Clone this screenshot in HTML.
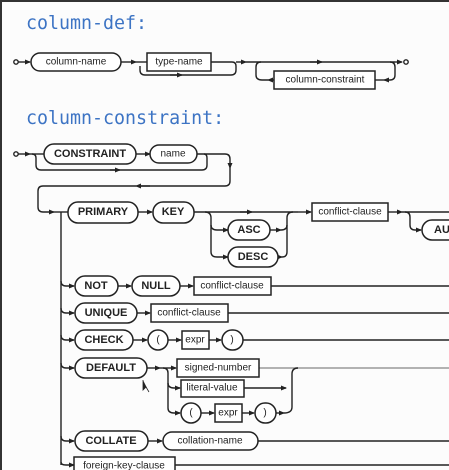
<!DOCTYPE html>
<html><head><meta charset="utf-8"><style>
html,body{margin:0;padding:0;background:#fcfcfc;}
svg{display:block;}
text{font-family:"Liberation Sans",sans-serif;font-size:10px;fill:#222;text-anchor:middle;dominant-baseline:central;}
.k{font-weight:bold;font-size:11px;}
.t{font-family:"DejaVu Sans Mono","Liberation Mono",monospace;font-size:18.3px;fill:#3d74c4;text-anchor:start;dominant-baseline:alphabetic;}
.l{fill:none;stroke:#222;stroke-width:1.4;}
.p{fill:#fff;stroke:#222;stroke-width:1.5;}
</style></head><body>
<svg width="449" height="470" viewBox="0 0 449 470">
<defs><marker id="a" markerWidth="6" markerHeight="6" refX="5" refY="3" orient="auto" markerUnits="userSpaceOnUse"><path d="M0,0.5 L6,3 L0,5.5z" fill="#222"/></marker></defs>
<rect x="0" y="0" width="449" height="470" fill="#fcfcfc"/>
<path d="M1,470 V1 H449" stroke="#333" stroke-width="2" fill="none"/>
<text class="t" x="26" y="29">column-def:</text>
<text class="t" x="26" y="124">column-constraint:</text>

<!-- column-def -->
<g class="l">
<circle cx="16" cy="62" r="2.2" fill="#fff"/>
<path d="M18,62 H30" marker-end="url(#a)"/>
<path d="M121,62 H136" marker-end="url(#a)"/>
<path d="M136,62 H147"/>
<path d="M211,62 H232 Q236,62 236,66 V70 Q236,75 231,75 H145 Q140,75 140,70 V66"/>
<path d="M170,75 H182" marker-end="url(#a)"/>
<path d="M236,62 H246" marker-end="url(#a)"/>
<path d="M246,62 H395" />
<path d="M310,62 H322" marker-end="url(#a)"/>
<path d="M395,62 H402" marker-end="url(#a)"/>
<circle cx="406" cy="62" r="2.2" fill="#fff"/>
<path d="M390,62 Q395,62 395,67 V75 Q395,80 390,80 H384" marker-end="url(#a)"/>
<path d="M384,80 H375"/>
<path d="M274,80 H268" marker-end="url(#a)"/>
<path d="M268,80 H262 Q256,80 256,75 V67 Q256,62 261,62"/>
</g>
<rect class="p" x="31" y="53" width="90" height="18" rx="9"/><text x="76" y="62">column-name</text>
<rect class="p" x="147" y="53" width="64" height="18"/><text x="179" y="62">type-name</text>
<rect class="p" x="274" y="71" width="101" height="18"/><text x="325" y="80">column-constraint</text>

<!-- column-constraint -->
<g class="l">
<circle cx="16" cy="154" r="2.2" fill="#fff"/>
<path d="M18,154 H30" marker-end="url(#a)"/>
<path d="M30,154 H44"/>
<path d="M136,154 H150" marker-end="url(#a)"/>
<path d="M197,154 H225 Q230,154 230,159 V168" marker-end="url(#a)"/>
<path d="M204,154 Q207,154 207,158 V165 Q207,170 202,170 H41 Q36,170 36,165 V158 Q36,154 32,154"/>
<path d="M110,170 H120" marker-end="url(#a)"/>
<path d="M230,168 V181 Q230,186 225,186 H140" />
<path d="M150,186 H136" marker-end="url(#a)"/>
<path d="M136,186 H43 Q38,186 38,191 V207 Q38,212 43,212 H54" marker-end="url(#a)"/>
<path d="M54,212 H68"/>
<path d="M61,212 V465"/>
<path d="M138,212 H152" marker-end="url(#a)"/>
<path d="M194,212 H298" />
<path d="M240,212 H252" marker-end="url(#a)"/>
<path d="M298,212 H311" marker-end="url(#a)"/>
<path d="M205,212 Q211,212 211,218 V252 Q211,257 217,257 H228" marker-end="url(#a)"/>
<path d="M211,225 Q211,230 217,230 H228" marker-end="url(#a)"/>
<path d="M270,230 H281" marker-end="url(#a)"/>
<path d="M278,257 H282" marker-end="url(#a)"/>
<path d="M281,230 Q287,230 287,225 V218 Q287,212 293,212"/>
<path d="M282,257 Q287,257 287,252 V225"/>
<path d="M388,212 H402" marker-end="url(#a)"/>
<path d="M402,212 H449"/>
<path d="M405,212 Q410,212 410,217 V225 Q410,230 415,230 H421" marker-end="url(#a)"/>
<!-- rows -->
<path d="M61,281 Q61,286 66,286 H74" marker-end="url(#a)"/>
<path d="M118,286 H131" marker-end="url(#a)"/>
<path d="M180,286 H193" marker-end="url(#a)"/>
<path d="M271,286 H449"/>
<path d="M61,308 Q61,313 66,313 H74" marker-end="url(#a)"/>
<path d="M137,313 H150" marker-end="url(#a)"/>
<path d="M228,313 H449"/>
<path d="M61,335 Q61,340 66,340 H74" marker-end="url(#a)"/>
<path d="M133,340 H147" marker-end="url(#a)"/>
<path d="M168,340 H181" marker-end="url(#a)"/>
<path d="M209,340 H221" marker-end="url(#a)"/>
<path d="M243,340 H449"/>
<path d="M61,363 Q61,368 66,368 H74" marker-end="url(#a)"/>
<path d="M147,368 H160" marker-end="url(#a)"/>
<path d="M160,368 H176" marker-end="url(#a)"/>
<path d="M259,368 H449" stroke="#999"/>
<path d="M163,368 Q168,368 168,373 V408 Q168,413 174,413 H180" marker-end="url(#a)"/>
<path d="M168,383 Q168,388 174,388 H180" marker-end="url(#a)"/>
<path d="M244,388 H286" marker-end="url(#a)"/>
<path d="M201,413 H214" marker-end="url(#a)"/>
<path d="M242,413 H254" marker-end="url(#a)"/>
<path d="M276,413 H284" marker-end="url(#a)"/>
<path d="M284,413 Q292,413 292,407 V374 Q292,368 298,368"/>
<path d="M61,436 Q61,441 66,441 H74" marker-end="url(#a)"/>
<path d="M148,441 H162" marker-end="url(#a)"/>
<path d="M258,441 H449"/>
<path d="M61,462 Q61,465 66,465 H74" marker-end="url(#a)"/>
<path d="M175,465 H449"/>
</g>
<rect class="p" x="44" y="144" width="92" height="20" rx="10"/><text class="k" x="90" y="154">CONSTRAINT</text>
<rect class="p" x="150" y="145" width="47" height="18" rx="9"/><text x="173" y="154">name</text>
<rect class="p" x="68" y="202" width="70" height="21" rx="10"/><text class="k" x="103" y="212">PRIMARY</text>
<rect class="p" x="153" y="202" width="41" height="21" rx="10"/><text class="k" x="173" y="212">KEY</text>
<rect class="p" x="312" y="203" width="76" height="18"/><text x="350" y="212">conflict-clause</text>
<rect class="p" x="228" y="220" width="42" height="20" rx="10"/><text class="k" x="249" y="230">ASC</text>
<rect class="p" x="228" y="247" width="50" height="20" rx="10"/><text class="k" x="253" y="257">DESC</text>
<rect class="p" x="422" y="220" width="40" height="20" rx="10"/><text class="k" x="442" y="230">AU</text>

<rect class="p" x="75" y="276" width="43" height="20" rx="10"/><text class="k" x="96" y="286">NOT</text>
<rect class="p" x="132" y="276" width="48" height="20" rx="10"/><text class="k" x="156" y="286">NULL</text>
<rect class="p" x="194" y="277" width="77" height="18"/><text x="232" y="286">conflict-clause</text>
<rect class="p" x="75" y="303" width="62" height="20" rx="10"/><text class="k" x="106" y="313">UNIQUE</text>
<rect class="p" x="151" y="304" width="77" height="18"/><text x="189" y="313">conflict-clause</text>
<rect class="p" x="75" y="330" width="58" height="20" rx="10"/><text class="k" x="104" y="340">CHECK</text>
<rect class="p" x="148" y="330" width="20" height="20" rx="10"/><text x="158" y="340">(</text>
<rect class="p" x="182" y="331" width="27" height="18"/><text x="195" y="340">expr</text>
<rect class="p" x="222" y="330" width="21" height="20" rx="10"/><text x="232" y="340">)</text>
<rect class="p" x="75" y="358" width="72" height="20" rx="10"/><text class="k" x="111" y="368">DEFAULT</text>
<rect class="p" x="177" y="359" width="82" height="18"/><text x="218" y="368">signed-number</text>
<rect class="p" x="181" y="380" width="63" height="17"/><text x="212" y="388">literal-value</text>
<rect class="p" x="181" y="403" width="20" height="20" rx="10"/><text x="191" y="413">(</text>
<rect class="p" x="215" y="404" width="27" height="18"/><text x="228" y="413">expr</text>
<rect class="p" x="255" y="403" width="21" height="20" rx="10"/><text x="265" y="413">)</text>
<path d="M143,380 L143,390 L146,387 L149,392" fill="#222" stroke="#222" stroke-width="0.8"/>
<rect class="p" x="75" y="431" width="73" height="20" rx="10"/><text class="k" x="111" y="441">COLLATE</text>
<rect class="p" x="163" y="432" width="95" height="18" rx="9"/><text x="210" y="441">collation-name</text>
<rect class="p" x="74" y="457" width="101" height="18"/><text x="124" y="466">foreign-key-clause</text>
</svg>
</body></html>
